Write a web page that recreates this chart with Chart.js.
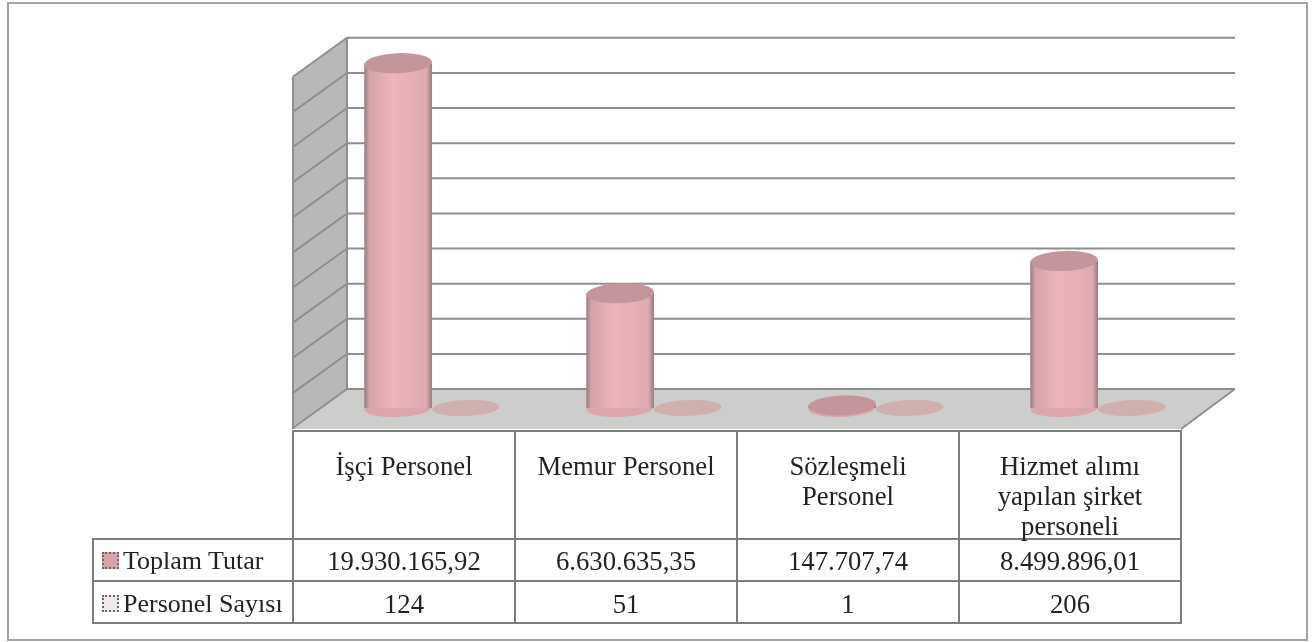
<!DOCTYPE html>
<html lang="tr">
<head>
<meta charset="utf-8">
<title>Personel</title>
<script src="https://cdn.jsdelivr.net/npm/chart.js@4"></script>
<style>
    html, body { margin: 0; padding: 0; background: #fff; }
    #wrap { position: relative; width: 1313px; height: 642px; overflow: hidden; filter: blur(0.5px); }
    #frame { position: absolute; left: 7px; top: 2px; width: 1297px; height: 635px; border: 2px solid #a3a3a3; }
    canvas { position: absolute; left: 0; top: 0; }
    #dataTable {
        position: absolute; left: 92px; top: 430px;
        border-collapse: collapse; table-layout: fixed;
        font-family: "Liberation Serif", serif; font-size: 26.7px; line-height: 30px; color: #222;
    }
    #dataTable td { border: 2px solid #7d7d7d; text-align: center; padding: 1px 0 0 0; height: 42px; box-sizing: border-box; }
    #dataTable tr.head td { height: 108px; vertical-align: top; padding: 15px 20px 0 20px; line-height: 30px; }
    #dataTable tr.head td div { position: relative; top: 4px; }
    #dataTable tr.second td { padding-top: 3px; }
    #dataTable tr.head td.empty { border-left: none; border-top: none; padding: 0; }
    #dataTable td.name { text-align: left; padding-left: 8px; white-space: nowrap; font-size: 26px; }
    .swatch { display: inline-block; width: 13px; height: 13px; margin-right: 4px; border: 2px dotted #666; }
</style>
</head>
<body>
<div id="wrap">
    <div id="frame"></div>
    <canvas id="chartCanvas" width="1313" height="642"></canvas>
    <table id="dataTable"></table>
</div>
<script>
// Values
const categories = ['İşçi Personel', 'Memur Personel', 'Sözleşmeli Personel', 'Hizmet alımı yapılan şirket personeli'];
const toplamTutar = [19930165.92, 6630635.35, 147707.74, 8499896.01];
const personelSayisi = [124, 51, 1, 206];
const seriesNames = ['Toplam Tutar', 'Personel Sayısı'];
const swatchColors = ['#d9a3aa', '#efe9ec'];

// Depth of the fake 3D box, the bars stand half way in
const depthX = 27;
const depthY = 19;
const wallStretch = 1.015;
const ellipseTilt = -0.04;

function formatTutar(value) {
    return value.toLocaleString('tr-TR', { minimumFractionDigits: 2, maximumFractionDigits: 2 });
}

// Table under the chart
function buildTable() {
    const table = document.getElementById('dataTable');
    const colgroup = '<colgroup><col style="width:200px">' + categories.map(() => '<col style="width:222px">').join('') + '</colgroup>';
    let html = colgroup + '<tr class="head"><td class="empty"></td>' + categories.map(c => '<td><div>' + c + '</div></td>').join('') + '</tr>';
    html += '<tr><td class="name"><span class="swatch" style="background:' + swatchColors[0] + '"></span>' + seriesNames[0] + '</td>' +
        toplamTutar.map(v => '<td>' + formatTutar(v) + '</td>').join('') + '</tr>';
    html += '<tr class="second"><td class="name"><span class="swatch" style="background:' + swatchColors[1] + '"></span>' + seriesNames[1] + '</td>' +
        personelSayisi.map(v => '<td>' + v + '</td>').join('') + '</tr>';
    table.innerHTML = html;
}

// Side shading of a cylinder
function cylinderFill(context) {
    const chart = context.chart;
    if (!chart.chartArea) return '#e8b0b5';
    const x = chart.scales.x.getPixelForTick(context.dataIndex) + (context.datasetIndex === 0 ? -33 : 33);
    const g = chart.ctx.createLinearGradient(x - 34, 0, x + 34, 0);
    g.addColorStop(0, '#9a8084');
    g.addColorStop(0.06, '#d3a3a8');
    g.addColorStop(0.4, '#eeb5ba');
    g.addColorStop(0.9, '#dfabb0');
    g.addColorStop(1, '#8c7478');
    return g;
}

function ellipse(ctx, x, y, rx, ry, fill) {
    ctx.beginPath();
    ctx.ellipse(x, y, rx, ry, ellipseTilt, 0, Math.PI * 2);
    ctx.fillStyle = fill;
    ctx.fill();
}

const box3d = {
    id: 'box3d',
    beforeDatasetsDraw(chart) {
        const ctx = chart.ctx;
        const area = chart.chartArea;
        const yScale = chart.scales.y;
        const backLeft = area.left + depthX - 1;
        const backRight = area.right + depthX - 1;
        const frontLeft = area.left - depthX - 1;
        const frontRight = area.right - depthX - 1;
        const backFloor = area.bottom - depthY;
        const wallY = v => backFloor - (area.bottom - yScale.getPixelForValue(v)) * wallStretch;
        const wallTop = wallY(yScale.max);
        const slope = 39;

        ctx.save();
        // side wall
        ctx.fillStyle = '#b8b8b6';
        ctx.beginPath();
        ctx.moveTo(frontLeft, wallTop + slope);
        ctx.lineTo(backLeft, wallTop);
        ctx.lineTo(backLeft, backFloor);
        ctx.lineTo(frontLeft, backFloor + 40);
        ctx.closePath();
        ctx.fill();

        // floor
        ctx.fillStyle = '#cdcdcb';
        ctx.beginPath();
        ctx.moveTo(frontLeft, backFloor + 40);
        ctx.lineTo(backLeft, backFloor);
        ctx.lineTo(backRight, backFloor);
        ctx.lineTo(frontRight, backFloor + 40);
        ctx.closePath();
        ctx.fill();

        // gridlines from the y scale ticks
        ctx.strokeStyle = '#8f8f8f';
        ctx.lineWidth = 2;
        yScale.ticks.forEach(tick => {
            const y = wallY(tick.value);
            ctx.beginPath();
            ctx.moveTo(frontLeft, y + slope);
            ctx.lineTo(backLeft, y);
            ctx.lineTo(backRight, y);
            ctx.stroke();
        });

        // edges of wall and floor
        ctx.strokeStyle = '#8f8f8f';
        ctx.beginPath();
        ctx.moveTo(backLeft, wallTop);
        ctx.lineTo(backLeft, backFloor);
        ctx.moveTo(frontLeft, wallTop + slope);
        ctx.lineTo(frontLeft, backFloor + 40);
        ctx.moveTo(backRight, backFloor);
        ctx.lineTo(frontRight, backFloor + 40);
        ctx.stroke();

        // bottom of the cylinders
        chart.getDatasetMeta(0).data.forEach(bar => {
            ellipse(ctx, bar.x, bar.base, bar.width / 2, 9, '#dba7ac');
        });
        ctx.restore();
    },
    afterDatasetsDraw(chart) {
        const ctx = chart.ctx;
        ctx.save();
        chart.getDatasetMeta(0).data.forEach(bar => {
            ellipse(ctx, bar.x, bar.y, bar.width / 2, 10, '#c4959a');
        });
        chart.getDatasetMeta(1).data.forEach(bar => {
            ellipse(ctx, bar.x, bar.y, bar.width / 2, 8, '#cfb0ae');
        });
        ctx.restore();
    }
};

document.addEventListener('DOMContentLoaded', function() {
    buildTable();

    new Chart(document.getElementById('chartCanvas').getContext('2d'), {
        type: 'bar',
        data: {
            labels: categories,
            datasets: [
                { label: seriesNames[0], data: toplamTutar, backgroundColor: cylinderFill, borderWidth: 0 },
                { label: seriesNames[1], data: personelSayisi, backgroundColor: cylinderFill, borderWidth: 0 }
            ]
        },
        options: {
            responsive: false,
            animation: false,
            layout: { padding: { left: 321, right: 104, top: 62, bottom: 234 } },
            datasets: { bar: { barPercentage: 1, categoryPercentage: 0.61 } },
            scales: {
                x: { display: false },
                y: { display: false, min: 0, max: 20000000, ticks: { stepSize: 2000000 } }
            },
            plugins: { legend: { display: false }, tooltip: { enabled: false } }
        },
        plugins: [box3d]
    });
});
</script>
</body>
</html>
